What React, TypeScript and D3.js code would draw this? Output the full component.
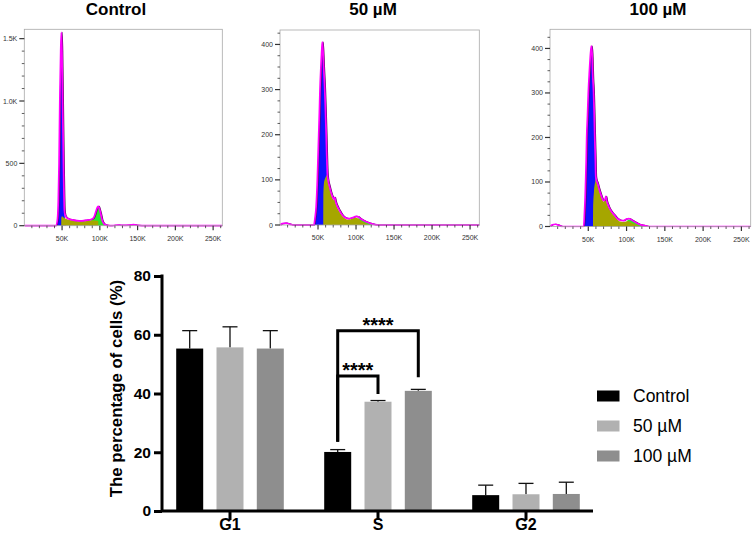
import React, { useEffect, useRef } from "react";
import * as d3 from "d3";

// ---- bar chart data ----
const phases = ["G1", "S", "G2"];
const groups = ["Control", "50 µM", "100 µM"];
const controlMean = [55.3, 20.1, 5.4];
const controlSd = [6.1, 0.8, 3.4];
const um50Mean = [55.7, 37.2, 5.7];
const um50Sd = [7.0, 0.4, 3.7];
const um100Mean = [55.3, 40.9, 5.8];
const um100Sd = [6.1, 0.5, 4.0];
const barTicks = [0, 20, 40, 60, 80];
const barColors = ["#000000", "#b1b1b1", "#8e8e8e"];

// ---- histogram data: [DNA content (K), count] ----
// g1 / g2 = top of the peak regions, s = S-phase band, fit = modelled envelope
const ctrlG1 = [[42, 0], [44, 60], [45, 200], [46, 500], [47, 1000], [48.2, 1400], [49, 1550], [49.8, 1400], [50.7, 1000], [51.8, 500], [52.5, 250], [53, 120], [53.5, 80], [55, 0]];
const ctrlS = [[48.9, 0], [49, 60], [50, 75], [52, 65], [55, 55], [60, 45], [65, 40], [70, 35], [75, 33], [80, 36], [85, 40], [90, 42], [95, 40], [97.9, 38], [98, 0]];
const ctrlG2 = [[86, 0], [88, 40], [91, 50], [93, 75], [95, 115], [97, 150], [98, 155], [99, 145], [101, 100], [103, 45], [106, 12], [108, 0]];
const ctrlFit = [[0, 0], [40, 0], [42, 2], [44, 60], [45, 200], [46, 500], [47, 1000], [48.2, 1400], [49, 1550], [49.8, 1400], [50.7, 1000], [51.8, 500], [52.5, 250], [53, 130], [54, 85], [56, 65], [60, 52], [65, 45], [70, 40], [75, 38], [80, 42], [85, 47], [88, 50], [91, 58], [93, 80], [95, 118], [97, 150], [98, 155], [99, 145], [101, 100], [103, 45], [106, 12], [110, 3], [115, 0], [120, 3], [125, 5], [130, 2], [140, 5], [145, 8], [150, 3], [160, 0], [262, 0]];

const um50G1 = [[44.5, 0], [46, 15], [47.5, 40], [49.1, 100], [50, 150], [50.9, 200], [51.8, 250], [52.6, 300], [53.8, 350], [55, 390], [55.7, 403], [56.5, 385], [57.5, 345], [58.8, 300], [59.8, 250], [60.7, 200], [61.5, 150], [62.2, 113], [63, 60], [64, 0]];
const um50S = [[56.9, 0], [57, 60], [58, 95], [60, 106], [62, 111], [63, 98], [65, 83], [67, 70], [69, 60], [71, 55], [72, 58], [73, 50], [75, 40], [78, 30], [82, 20], [86, 14], [90, 12], [95, 14], [100, 16], [103, 14], [106, 10], [110, 6], [114, 3], [118, 0]];
const um50G2 = [[98, 0], [102, 14], [105, 15], [108, 12], [112, 9], [116, 6], [120, 3], [124, 0]];
const um50Fit = [[0, 0], [3, 3], [8, 4], [13, 2], [18, 0], [44.5, 0], [46, 15], [47.5, 40], [49.1, 100], [50, 150], [50.9, 200], [51.8, 250], [52.6, 300], [53.8, 350], [55, 390], [55.7, 405], [56.5, 387], [57.5, 347], [58.8, 302], [59.8, 252], [60.7, 202], [61.5, 152], [62.2, 116], [63, 102], [65, 86], [67, 73], [69, 63], [71, 57], [72, 61], [73, 53], [75, 43], [78, 33], [82, 22], [86, 16], [90, 14], [95, 16], [100, 19], [103, 18], [106, 14], [110, 10], [115, 6], [120, 3], [125, 1], [130, 0], [262, 0]];

const um100G1 = [[44, 0], [45, 30], [46, 70], [46.5, 100], [47.3, 150], [47.9, 200], [49, 250], [50, 300], [51.5, 350], [53, 390], [54, 404], [55, 385], [56, 330], [56.9, 300], [57.7, 250], [58.4, 200], [59.2, 150], [59.8, 108], [60.5, 60], [61.5, 0]];
const um100S = [[56.2, 0], [56.3, 40], [57.5, 80], [59, 100], [60, 107], [62, 95], [64, 82], [66, 72], [68, 62], [70, 56], [72, 60], [73, 66], [74, 55], [76, 45], [78, 38], [81, 30], [84, 24], [88, 16], [92, 11], [96, 10], [100, 12], [103, 12], [106, 9], [110, 6], [114, 3], [118, 0]];
const um100G2 = [[99, 0], [102, 15], [105, 15], [109, 12], [113, 9], [117, 6], [121, 4], [126, 0]];
const um100Fit = [[0, 0], [3, 4], [7, 5], [11, 3], [16, 0], [44, 0], [45, 30], [46, 70], [46.5, 100], [47.3, 150], [47.9, 200], [49, 250], [50, 300], [51.5, 350], [53, 390], [54, 405], [55, 387], [56, 332], [56.9, 302], [57.7, 252], [58.4, 202], [59.2, 152], [59.8, 112], [60.5, 105], [62, 98], [64, 85], [66, 74], [68, 64], [70, 58], [72, 62], [73, 68], [74, 58], [76, 48], [78, 40], [81, 32], [84, 26], [88, 18], [92, 14], [96, 13], [100, 17], [103, 18], [106, 15], [110, 11], [115, 6], [120, 3], [126, 1], [130, 0], [262, 0]];

const histXTicks = [50, 100, 150, 200, 250];
const histXLabels = ["50K", "100K", "150K", "200K", "250K"];

const FONT = "'Liberation Sans', Arial, Helvetica, sans-serif";

const App = () => {
  const ref = useRef<SVGSVGElement>(null);

  useEffect(() => {
    const svg = d3.select(ref.current);
    svg.selectAll("*").remove();

    // ---------- histograms ----------
    const panels = [
      { title: "Control", tx: 116, g1: ctrlG1, s: ctrlS, g2: ctrlG2, fit: ctrlFit, x0: 24.3, x1: 222.3, y0: 29.3, y1: 225.7, yMax: 1575, yTicks: [0, 500, 1000, 1500], yLabels: ["0", "500", "1.0K", "1.5K"], minor: 100 },
      { title: "50 µM", tx: 373, g1: um50G1, s: um50S, g2: um50G2, fit: um50Fit, x0: 280, x1: 479.3, y0: 30, y1: 225, yMax: 432, yTicks: [0, 100, 200, 300, 400], yLabels: ["0", "100", "200", "300", "400"], minor: 25 },
      { title: "100 µM", tx: 658, g1: um100G1, s: um100S, g2: um100G2, fit: um100Fit, x0: 550, x1: 750.7, y0: 29.3, y1: 226.5, yMax: 443, yTicks: [0, 100, 200, 300, 400], yLabels: ["0", "100", "200", "300", "400"], minor: 25 },
    ];

    panels.forEach((p, i) => {
      const x = d3.scaleLinear().domain([0, 262.144]).range([p.x0, p.x1]);
      const y = d3.scaleLinear().domain([0, p.yMax]).range([p.y1, p.y0]);
      const g = svg.append("g");

      g.append("clipPath").attr("id", "clip" + i)
        .append("rect").attr("x", p.x0).attr("y", p.y0).attr("width", p.x1 - p.x0).attr("height", p.y1 - p.y0 + 1);

      const area = d3.area<number[]>()
        .x(d => x(d[0])).y0(y(0)).y1(d => y(d[1]))
        .curve(d3.curveMonotoneX);
      const line = d3.line<number[]>()
        .x(d => x(d[0])).y(d => y(d[1]))
        .curve(d3.curveMonotoneX);

      const plot = g.append("g").attr("clip-path", `url(#clip${i})`);
      plot.append("path").datum(p.g1).attr("d", area).attr("fill", "#1010ff");
      plot.append("path").datum(p.g2).attr("d", area).attr("fill", "#2ee62e");
      plot.append("path").datum(p.s).attr("d", area).attr("fill", "#a6a600");
      plot.append("path").datum(p.fit).attr("d", line)
        .attr("fill", "none").attr("stroke", "#5a0060").attr("stroke-width", 1.2)
        .attr("transform", "translate(0.8,0)");
      plot.append("path").datum(p.fit).attr("d", line)
        .attr("fill", "none").attr("stroke", "#ff00ff").attr("stroke-width", 1.7);

      // frame
      g.append("rect").attr("x", p.x0).attr("y", p.y0)
        .attr("width", p.x1 - p.x0).attr("height", p.y1 - p.y0)
        .attr("fill", "none").attr("stroke", "#a8a8a8").attr("stroke-width", 0.8);

      // y ticks
      d3.range(0, p.yMax, p.minor).forEach(v => {
        const major = p.yTicks.includes(v);
        g.append("line").attr("x1", p.x0 - (major ? 5 : 2.5)).attr("x2", p.x0)
          .attr("y1", y(v)).attr("y2", y(v))
          .attr("stroke", "#333").attr("stroke-width", major ? 1.2 : 0.8);
      });
      p.yTicks.forEach((v, k) => {
        g.append("text").attr("x", p.x0 - 7).attr("y", y(v))
          .attr("text-anchor", "end").attr("dominant-baseline", "central")
          .attr("font-family", FONT).attr("font-size", 7).attr("fill", "#333")
          .text(p.yLabels[k]);
      });

      // x ticks
      d3.range(10, 262, 10).forEach(v => {
        const major = histXTicks.includes(v);
        g.append("line").attr("x1", x(v)).attr("x2", x(v))
          .attr("y1", p.y1).attr("y2", p.y1 + (major ? 4.5 : 2.5))
          .attr("stroke", "#333").attr("stroke-width", major ? 1.2 : 0.8);
      });
      histXTicks.forEach((v, k) => {
        g.append("text").attr("x", x(v)).attr("y", p.y1 + 12.5)
          .attr("text-anchor", "middle").attr("dominant-baseline", "central")
          .attr("font-family", FONT).attr("font-size", 7).attr("fill", "#333")
          .text(histXLabels[k]);
      });

      g.append("text").attr("x", p.tx).attr("y", 9)
        .attr("text-anchor", "middle").attr("dominant-baseline", "central")
        .attr("font-family", FONT).attr("font-size", 17).attr("font-weight", "bold")
        .text(p.title);
    });

    // ---------- bar chart ----------
    const means = [controlMean, um50Mean, um100Mean];
    const sds = [controlSd, um50Sd, um100Sd];
    const x = d3.scalePoint().domain(phases).range([230, 526]);
    const xs = d3.scaleBand().domain(groups).range([-53.8, 53.8]).paddingInner(0.33);
    const y = d3.scaleLinear().domain([0, 80]).range([511, 276]);
    const bw = xs.bandwidth();
    const chart = svg.append("g");

    groups.forEach((grp, gi) => {
      phases.forEach((ph, pi) => {
        const cx = (x(ph) as number) + (xs(grp) as number);
        const m = means[gi][pi];
        const top = m + sds[gi][pi];
        chart.append("line").attr("x1", cx + bw / 2).attr("x2", cx + bw / 2)
          .attr("y1", y(m)).attr("y2", y(top))
          .attr("stroke", "#111").attr("stroke-width", 1.3);
        chart.append("line").attr("x1", cx + bw / 2 - 7.5).attr("x2", cx + bw / 2 + 7.5)
          .attr("y1", y(top)).attr("y2", y(top))
          .attr("stroke", "#111").attr("stroke-width", 1.3);
        chart.append("rect").attr("x", cx).attr("y", y(m))
          .attr("width", bw).attr("height", y(0) - y(m))
          .attr("fill", barColors[gi]);
      });
    });

    // axes
    const yAxis = chart.append("g").attr("transform", "translate(162,0)")
      .call(d3.axisLeft(y).tickValues(barTicks).tickSize(8).tickSizeOuter(0).tickPadding(3));
    yAxis.select(".domain").remove();
    yAxis.selectAll("line").attr("stroke", "#000").attr("stroke-width", 3);
    yAxis.selectAll("text").attr("font-family", FONT).attr("font-size", 15.5)
      .attr("font-weight", "bold").attr("fill", "#000");

    chart.append("path").attr("d", `M162,${y(80) - 1.5}V${y(0)}H593`)
      .attr("fill", "none").attr("stroke", "#000").attr("stroke-width", 3);

    phases.forEach(ph => {
      chart.append("line").attr("x1", x(ph) as number).attr("x2", x(ph) as number)
        .attr("y1", y(0)).attr("y2", y(0) + 9)
        .attr("stroke", "#000").attr("stroke-width", 3);
      chart.append("text").attr("x", x(ph) as number).attr("y", 530)
        .attr("text-anchor", "middle")
        .attr("font-family", FONT).attr("font-size", 16).attr("font-weight", "bold")
        .text(ph);
    });

    chart.append("text")
      .attr("transform", `translate(116,${(y(0) + y(80)) / 2 - 5}) rotate(-90)`)
      .attr("text-anchor", "middle").attr("dominant-baseline", "central")
      .attr("font-family", FONT).attr("font-size", 16.8).attr("font-weight", "bold")
      .text("The percentage of cells (%)");

    // significance brackets (S phase)
    const sx = (grp: string) => (x("S") as number) + (xs(grp) as number) + bw / 2;
    const brackets = [
      { to: "50 µM", from: 23.6, top: 46.0, end: 39.8 },
      { to: "100 µM", from: 23.6, top: 61.4, end: 45.5 },
    ];
    brackets.forEach(b => {
      chart.append("path")
        .attr("d", `M${sx("Control")},${y(b.from)}V${y(b.top)}H${sx(b.to)}V${y(b.end)}`)
        .attr("fill", "none").attr("stroke", "#000").attr("stroke-width", 3);
      chart.append("text").attr("x", (sx("Control") + sx(b.to)) / 2).attr("y", y(b.top) + 1.5)
        .attr("text-anchor", "middle")
        .attr("font-family", FONT).attr("font-size", 20).attr("font-weight", "bold")
        .text("****");
    });

    // legend
    groups.forEach((grp, gi) => {
      const ry = 396 + gi * 30;
      chart.append("rect").attr("x", 597).attr("y", ry - 5.5).attr("width", 22.5).attr("height", 11)
        .attr("fill", barColors[gi]);
      chart.append("text").attr("x", 633).attr("y", ry)
        .attr("dominant-baseline", "central")
        .attr("font-family", FONT).attr("font-size", 17.5)
        .text(grp);
    });
  }, []);

  return (
    <svg ref={ref} width={753} height={540}
      style={{ position: "absolute", left: 0, top: 0, background: "#fff" }} />
  );
};

export default App;
